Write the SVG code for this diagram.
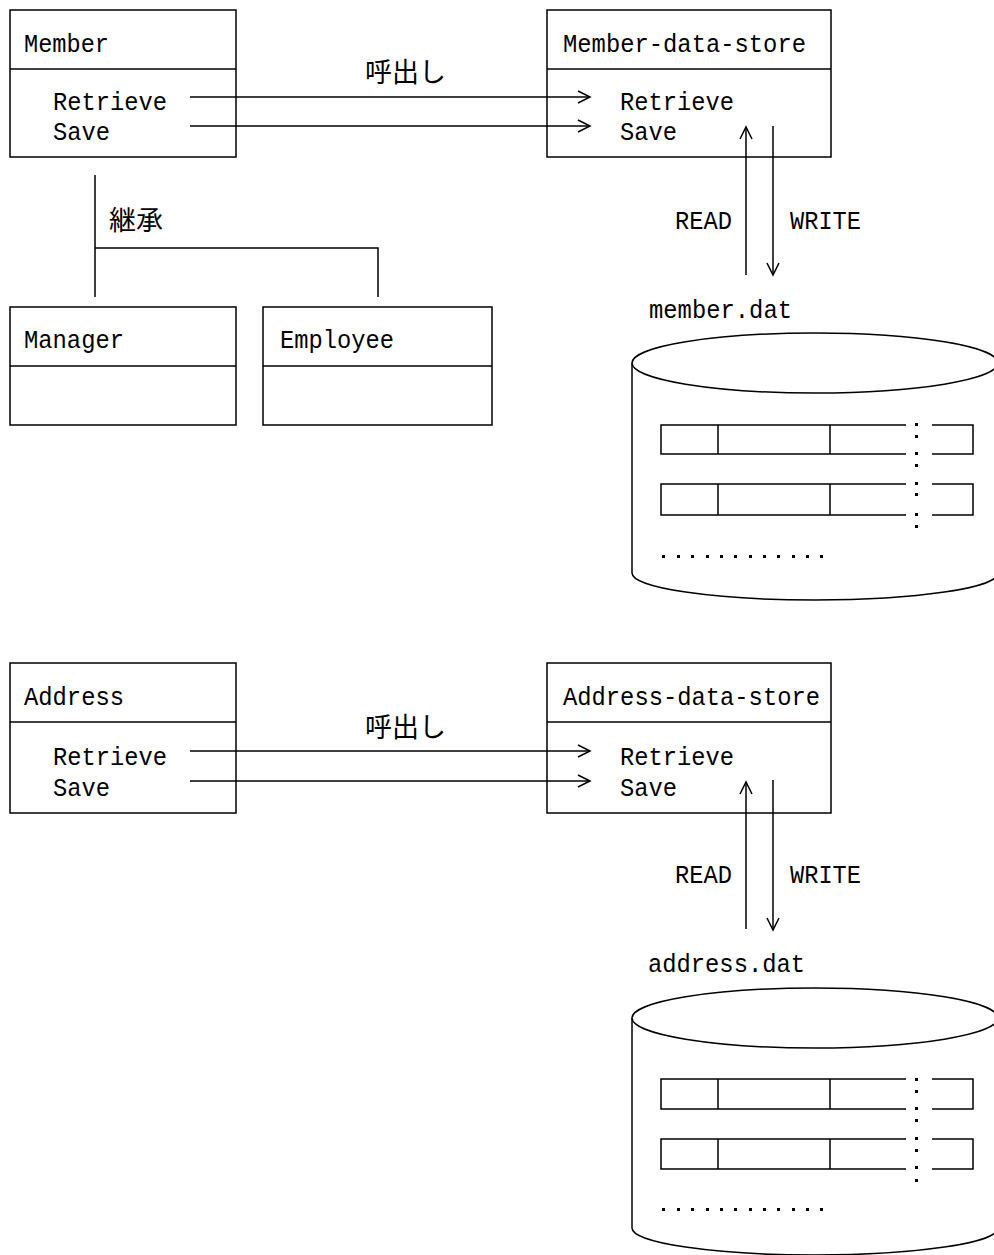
<svg xmlns="http://www.w3.org/2000/svg" width="994" height="1255" viewBox="0 0 994 1255">
<style>
  .box { fill: #fff; stroke: #000; stroke-width: 1.5; }
  .ln { fill: none; stroke: #000; stroke-width: 1.5; }
  .t { font-family: "Liberation Mono", "DejaVu Sans Mono", monospace; font-size: 26px; fill: #000; }
  .j { font-family: "Noto Sans CJK JP", "Noto Sans CJK SC", sans-serif; font-size: 27px; fill: #000; }
  .dot { fill: #000; }
</style>
<defs>
  <marker id="arr" markerUnits="userSpaceOnUse" markerWidth="16" markerHeight="16" viewBox="-14 -8 16 16" refX="0" refY="0" orient="auto">
    <path d="M-12,-6 L0,0 L-12,6" fill="none" stroke="#000" stroke-width="1.5"/>
  </marker>
</defs>
<rect width="994" height="1255" fill="#fff"/>

<!-- ========== TOP SECTION ========== -->
<g id="member">
  <rect class="box" x="10" y="10" width="226" height="147"/>
  <line class="ln" x1="10" y1="69" x2="236" y2="69"/>
  <text class="t" x="24" y="52" textLength="85" lengthAdjust="spacingAndGlyphs">Member</text>
  <text class="t" x="53" y="110" textLength="114" lengthAdjust="spacingAndGlyphs">Retrieve</text>
  <text class="t" x="53" y="140" textLength="57" lengthAdjust="spacingAndGlyphs">Save</text>
</g>
<g id="manager">
  <rect class="box" x="10" y="307" width="226" height="118"/>
  <line class="ln" x1="10" y1="366" x2="236" y2="366"/>
  <text class="t" x="24" y="348" textLength="100" lengthAdjust="spacingAndGlyphs">Manager</text>
</g>
<g id="employee">
  <rect class="box" x="263" y="307" width="229" height="118"/>
  <line class="ln" x1="263" y1="366" x2="492" y2="366"/>
  <text class="t" x="280" y="348" textLength="114" lengthAdjust="spacingAndGlyphs">Employee</text>
</g>
<g id="member-data-store">
  <rect class="box" x="547" y="10" width="284" height="147"/>
  <line class="ln" x1="547" y1="69" x2="831" y2="69"/>
  <text class="t" x="563" y="52" textLength="243" lengthAdjust="spacingAndGlyphs">Member-data-store</text>
  <text class="t" x="620" y="110" textLength="114" lengthAdjust="spacingAndGlyphs">Retrieve</text>
  <text class="t" x="620" y="140" textLength="57" lengthAdjust="spacingAndGlyphs">Save</text>
</g>
<g id="member-dat">
  <text class="t" x="649" y="318" textLength="143" lengthAdjust="spacingAndGlyphs">member.dat</text>
  <ellipse class="ln" cx="815" cy="363" rx="183" ry="30"/>
  <path class="ln" d="M632,363 L632,573 A183,27 0 0 0 998,573 L998,363"/>
  <path class="ln" d="M906,425 L661,425 L661,454 L906,454 M932,425 L973,425 L973,454 L932,454 M718,425 L718,454 M830,425 L830,454"/>
  <path class="ln" d="M906,484 L661,484 L661,515 L906,515 M932,484 L973,484 L973,515 L932,515 M718,484 L718,515 M830,484 L830,515"/>
  <g class="dot">
    <rect x="915" y="423" width="3" height="3"/><rect x="915" y="435" width="3" height="3"/>
    <rect x="915" y="452" width="3" height="3"/><rect x="915" y="464" width="3" height="3"/>
    <rect x="915" y="482" width="3" height="3"/><rect x="915" y="493" width="3" height="3"/>
    <rect x="915" y="513" width="3" height="3"/><rect x="915" y="525" width="3" height="3"/>
    <rect x="662" y="555" width="3" height="3"/><rect x="677" y="555" width="3" height="3"/>
    <rect x="691" y="555" width="3" height="3"/><rect x="706" y="555" width="3" height="3"/>
    <rect x="720" y="555" width="3" height="3"/><rect x="734" y="555" width="3" height="3"/>
    <rect x="749" y="555" width="3" height="3"/><rect x="763" y="555" width="3" height="3"/>
    <rect x="777" y="555" width="3" height="3"/><rect x="792" y="555" width="3" height="3"/>
    <rect x="806" y="555" width="3" height="3"/><rect x="820" y="555" width="3" height="3"/>
  </g>
</g>

<!-- ========== BOTTOM SECTION ========== -->
<g id="address">
  <rect class="box" x="10" y="663" width="226" height="150"/>
  <line class="ln" x1="10" y1="722" x2="236" y2="722"/>
  <text class="t" x="24" y="705" textLength="100" lengthAdjust="spacingAndGlyphs">Address</text>
  <text class="t" x="53" y="765" textLength="114" lengthAdjust="spacingAndGlyphs">Retrieve</text>
  <text class="t" x="53" y="796" textLength="57" lengthAdjust="spacingAndGlyphs">Save</text>
</g>
<g id="address-data-store">
  <rect class="box" x="547" y="663" width="284" height="150"/>
  <line class="ln" x1="547" y1="722" x2="831" y2="722"/>
  <text class="t" x="563" y="705" textLength="257" lengthAdjust="spacingAndGlyphs">Address-data-store</text>
  <text class="t" x="620" y="765" textLength="114" lengthAdjust="spacingAndGlyphs">Retrieve</text>
  <text class="t" x="620" y="796" textLength="57" lengthAdjust="spacingAndGlyphs">Save</text>
</g>
<g id="address-dat">
  <text class="t" x="648" y="972" textLength="157" lengthAdjust="spacingAndGlyphs">address.dat</text>
  <ellipse class="ln" cx="815" cy="1018" rx="183" ry="30"/>
  <path class="ln" d="M632,1018 L632,1228 A183,27 0 0 0 998,1228 L998,1018"/>
  <path class="ln" d="M906,1079 L661,1079 L661,1109 L906,1109 M932,1079 L973,1079 L973,1109 L932,1109 M718,1079 L718,1109 M830,1079 L830,1109"/>
  <path class="ln" d="M906,1139 L661,1139 L661,1169 L906,1169 M932,1139 L973,1139 L973,1169 L932,1169 M718,1139 L718,1169 M830,1139 L830,1169"/>
  <g class="dot">
    <rect x="915" y="1078" width="3" height="3"/><rect x="915" y="1090" width="3" height="3"/>
    <rect x="915" y="1107" width="3" height="3"/><rect x="915" y="1119" width="3" height="3"/>
    <rect x="915" y="1137" width="3" height="3"/><rect x="915" y="1149" width="3" height="3"/>
    <rect x="915" y="1166" width="3" height="3"/><rect x="915" y="1179" width="3" height="3"/>
    <rect x="662" y="1208" width="3" height="3"/><rect x="677" y="1208" width="3" height="3"/>
    <rect x="691" y="1208" width="3" height="3"/><rect x="706" y="1208" width="3" height="3"/>
    <rect x="720" y="1208" width="3" height="3"/><rect x="734" y="1208" width="3" height="3"/>
    <rect x="749" y="1208" width="3" height="3"/><rect x="763" y="1208" width="3" height="3"/>
    <rect x="777" y="1208" width="3" height="3"/><rect x="792" y="1208" width="3" height="3"/>
    <rect x="806" y="1208" width="3" height="3"/><rect x="820" y="1208" width="3" height="3"/>
  </g>
</g>

<!-- ========== CONNECTORS ========== -->
<g id="connectors">
  <!-- top calls -->
  <line class="ln" x1="190" y1="97" x2="590" y2="97" marker-end="url(#arr)"/>
  <line class="ln" x1="190" y1="126" x2="590" y2="126" marker-end="url(#arr)"/>
  <text class="j" x="365" y="82">呼出し</text>
  <!-- inheritance -->
  <path class="ln" d="M95,175 L95,297 M95,248 L378,248 L378,297"/>
  <text class="j" x="109" y="230">継承</text>
  <!-- read/write top -->
  <line class="ln" x1="746" y1="275" x2="746" y2="127" marker-end="url(#arr)"/>
  <line class="ln" x1="773" y1="126" x2="773" y2="275" marker-end="url(#arr)"/>
  <text class="t" x="675" y="229" textLength="57" lengthAdjust="spacingAndGlyphs">READ</text>
  <text class="t" x="790" y="229" textLength="71" lengthAdjust="spacingAndGlyphs">WRITE</text>

  <!-- bottom calls -->
  <line class="ln" x1="190" y1="751" x2="590" y2="751" marker-end="url(#arr)"/>
  <line class="ln" x1="190" y1="781" x2="590" y2="781" marker-end="url(#arr)"/>
  <text class="j" x="365" y="737">呼出し</text>
  <!-- read/write bottom -->
  <line class="ln" x1="746" y1="929" x2="746" y2="782" marker-end="url(#arr)"/>
  <line class="ln" x1="773" y1="780" x2="773" y2="930" marker-end="url(#arr)"/>
  <text class="t" x="675" y="883" textLength="57" lengthAdjust="spacingAndGlyphs">READ</text>
  <text class="t" x="790" y="883" textLength="71" lengthAdjust="spacingAndGlyphs">WRITE</text>
</g>
</svg>
